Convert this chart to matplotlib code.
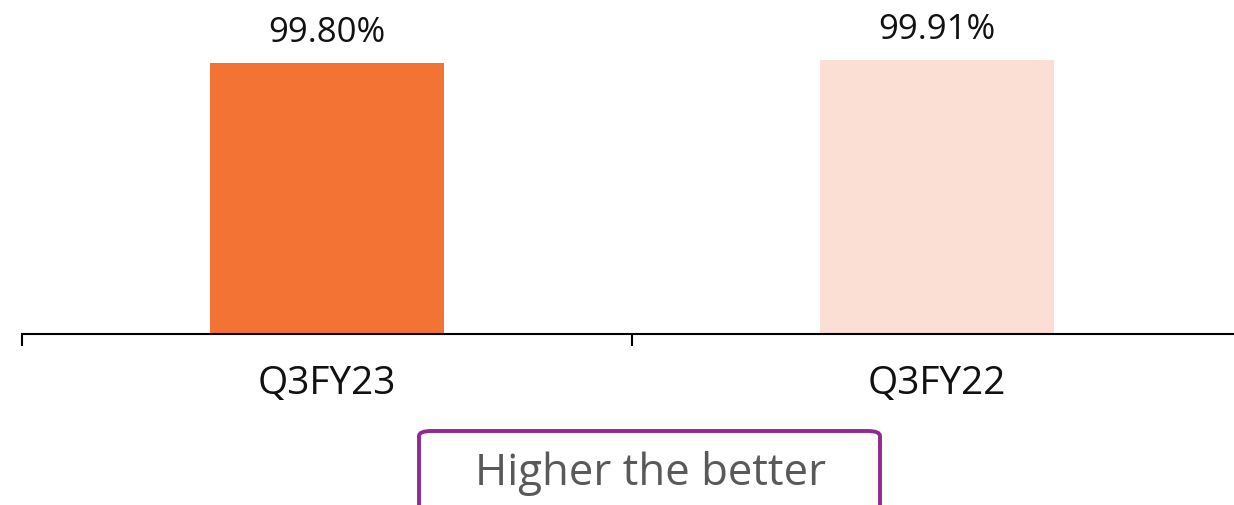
import matplotlib
matplotlib.use("Agg")
import matplotlib.pyplot as plt
from matplotlib.patches import FancyBboxPatch

# === DATA ===
categories = ["Q3FY23", "Q3FY22"]
values = [99.80, 99.91]
bar_colors = ["#F37334", "#FCDFD4"]
note_text = "Higher the better"

plt.rcParams['font.family'] = ['Open Sans', 'DejaVu Sans']

W, H = 1234, 505
fig = plt.figure(figsize=(W / 100, H / 100), dpi=100)

# axes: left edge at 22px, spills past the right edge, baseline at y=334px
ax = fig.add_axes([22 / W, (H - 334) / H, 1220 / W, 334 / H])
xs = list(range(len(categories)))
ax.bar(xs, values, width=0.385, color=bar_colors, bottom=0)
ax.set_xlim(-0.5, len(categories) - 0.5)
ax.set_ylim(90, 90 + 334 / 27.68)

for x, v in zip(xs, values):
    ax.annotate(f"{v:.2f}%", (x, v), xytext=(0, 15), textcoords="offset points",
                ha="center", va="baseline", fontsize=25, color="#111111")

for s in ["top", "right", "left"]:
    ax.spines[s].set_visible(False)
ax.spines["bottom"].set_linewidth(1.5)
ax.spines["bottom"].set_clip_on(False)
ax.set_yticks([])

ax.set_xticks(xs)
ax.set_xticklabels(categories, fontsize=28, color="#111111")
ax.tick_params(axis="x", which="major", length=0, pad=22)
ax.set_xticks([x - 0.5 for x in xs] + [xs[-1] + 0.5], minor=True)
ax.tick_params(axis="x", which="minor", length=8.5, width=1.5, direction="out")

# note box at the bottom, cut off by the figure edge
box = FancyBboxPatch((419 / W, -30 / H), 461 / W, 104 / H,
                     boxstyle="round,pad=0,rounding_size=0.01",
                     transform=fig.transFigure, facecolor="white",
                     edgecolor="#912A8E", linewidth=2.8, clip_on=False)
fig.patches.append(box)
fig.text(651 / W, (H - 485) / H, note_text, ha="center", va="baseline",
         fontsize=31.5, color="#595959")

fig.savefig("out.png", dpi=100)
